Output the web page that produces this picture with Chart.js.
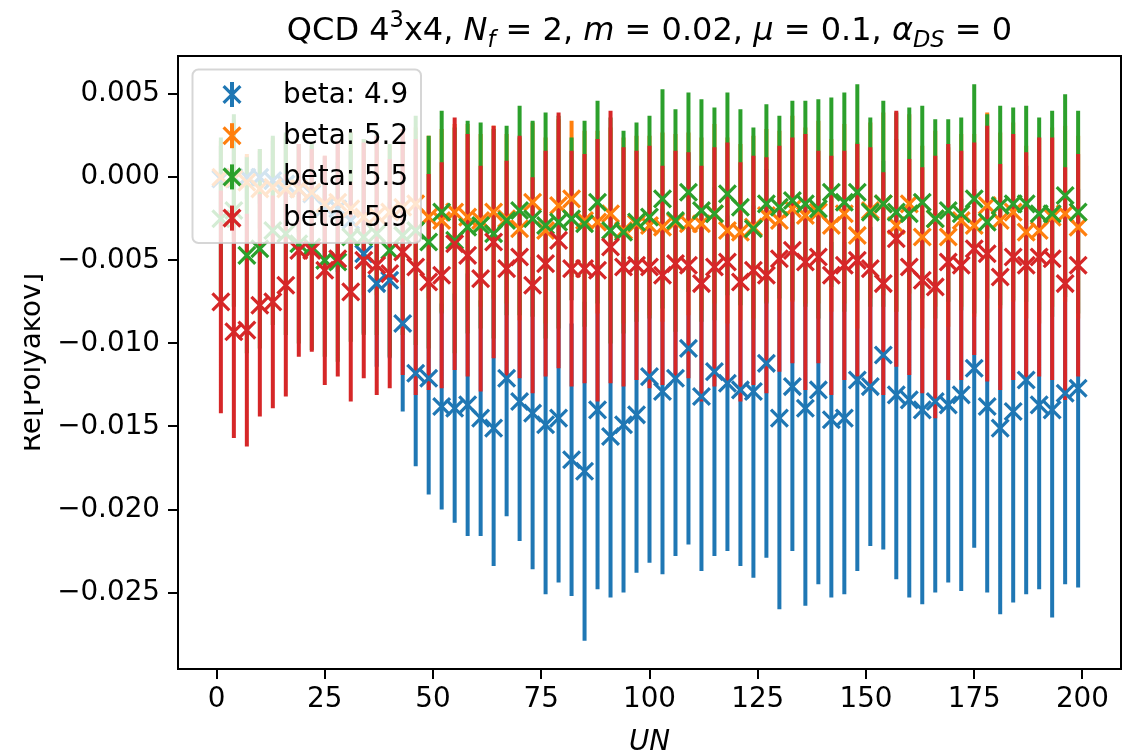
<!DOCTYPE html>
<html>
<head>
<meta charset="utf-8">
<script src="https://cdn.jsdelivr.net/npm/chart.js@4.4.1/dist/chart.umd.min.js"></script>
<style>
    html, body { margin: 0; padding: 0; background: #fff; }
    #wrap { width: 1139px; height: 754px; }
</style>
</head>
<body>
<div id="wrap"><canvas id="grafico" width="1139" height="754"></canvas></div>
<script>
// Polyakov loop vs. configuration number, one series per beta
var xVals = [1, 4, 7, 10, 13, 16, 19, 22, 25, 28, 31, 34, 37, 40, 43, 46, 49, 52, 55, 58,
    61, 64, 67, 70, 73, 76, 79, 82, 85, 88, 91, 94, 97, 100, 103, 106, 109, 112, 115, 118,
    121, 124, 127, 130, 133, 136, 139, 142, 145, 148, 151, 154, 157, 160, 163, 166, 169, 172, 175, 178,
    181, 184, 187, 190, 193, 196, 199];

var betaLabels = ['beta: 4.9', 'beta: 5.2', 'beta: 5.5', 'beta: 5.9'];

var beta49 = [-0.0001, 0.0000, 0.0000, 0.0000, -0.0002, -0.0004, -0.0007, -0.0010, -0.0018, -0.0019,
    -0.0026, -0.0046, -0.0064, -0.0062, -0.0088, -0.0118, -0.0121, -0.0138, -0.0139, -0.0137,
    -0.0145, -0.0151, -0.0121, -0.0135, -0.0142, -0.0149, -0.0145, -0.0170, -0.0177, -0.0140,
    -0.0156, -0.0149, -0.0143, -0.0120, -0.0129, -0.0121, -0.0103, -0.0132, -0.0117, -0.0124,
    -0.0128, -0.0129, -0.0112, -0.0145, -0.0126, -0.0139, -0.0128, -0.0146, -0.0145, -0.0122,
    -0.0126, -0.0107, -0.0131, -0.0134, -0.0140, -0.0135, -0.0137, -0.0131, -0.0115, -0.0138,
    -0.0151, -0.0141, -0.0122, -0.0137, -0.0140, -0.0130, -0.0127];
var beta49Err = [0.0020, 0.0030, 0.0013, 0.0016, 0.0024, 0.0028, 0.0026, 0.0029, 0.0030, 0.0038,
    0.0042, 0.0048, 0.0050, 0.0047, 0.0053, 0.0056, 0.0070, 0.0062, 0.0069, 0.0079,
    0.0071, 0.0083, 0.0083, 0.0084, 0.0094, 0.0102, 0.0099, 0.0082, 0.0102, 0.0108,
    0.0097, 0.0101, 0.0095, 0.0112, 0.0110, 0.0107, 0.0118, 0.0105, 0.0111, 0.0101,
    0.0106, 0.0112, 0.0117, 0.0115, 0.0099, 0.0119, 0.0117, 0.0107, 0.0106, 0.0115,
    0.0096, 0.0117, 0.0111, 0.0119, 0.0117, 0.0115, 0.0107, 0.0118, 0.0108, 0.0112,
    0.0112, 0.0115, 0.0129, 0.0111, 0.0125, 0.0115, 0.0120];

var beta52 = [0.0000, -0.0001, -0.0003, -0.0007, -0.0006, -0.0007, -0.0007, -0.0009, -0.0016, -0.0015,
    -0.0019, -0.0024, -0.0023, -0.0021, -0.0018, -0.0016, -0.0024, -0.0026, -0.0021, -0.0024,
    -0.0026, -0.0021, -0.0025, -0.0031, -0.0015, -0.0032, -0.0017, -0.0013, -0.0026, -0.0027,
    -0.0022, -0.0032, -0.0028, -0.0029, -0.0030, -0.0027, -0.0028, -0.0028, -0.0022, -0.0032,
    -0.0033, -0.0030, -0.0023, -0.0026, -0.0019, -0.0023, -0.0021, -0.0029, -0.0022, -0.0035,
    -0.0020, -0.0016, -0.0029, -0.0016, -0.0036, -0.0025, -0.0036, -0.0026, -0.0029, -0.0017,
    -0.0026, -0.0021, -0.0033, -0.0032, -0.0024, -0.0022, -0.0030];
var beta52Err = [0.0022, 0.0036, 0.0017, 0.0024, 0.0030, 0.0033, 0.0027, 0.0029, 0.0029, 0.0036,
    0.0046, 0.0047, 0.0048, 0.0040, 0.0047, 0.0046, 0.0049, 0.0055, 0.0053, 0.0056,
    0.0052, 0.0052, 0.0051, 0.0055, 0.0048, 0.0056, 0.0052, 0.0047, 0.0054, 0.0055,
    0.0052, 0.0056, 0.0053, 0.0054, 0.0057, 0.0053, 0.0055, 0.0052, 0.0054, 0.0056,
    0.0053, 0.0055, 0.0052, 0.0054, 0.0056, 0.0053, 0.0055, 0.0052, 0.0054, 0.0056,
    0.0053, 0.0055, 0.0052, 0.0054, 0.0055, 0.0053, 0.0054, 0.0052, 0.0055, 0.0056,
    0.0053, 0.0054, 0.0052, 0.0056, 0.0054, 0.0053, 0.0055];

var beta55 = [-0.0025, -0.0020, -0.0047, -0.0043, -0.0032, -0.0034, -0.0040, -0.0042, -0.0050, -0.0051,
    -0.0036, -0.0036, -0.0034, -0.0044, -0.0035, -0.0032, -0.0039, -0.0021, -0.0038, -0.0030,
    -0.0029, -0.0034, -0.0026, -0.0020, -0.0025, -0.0029, -0.0027, -0.0025, -0.0028, -0.0015,
    -0.0032, -0.0033, -0.0027, -0.0024, -0.0013, -0.0026, -0.0009, -0.0020, -0.0022, -0.0010,
    -0.0018, -0.0031, -0.0016, -0.0018, -0.0014, -0.0016, -0.0019, -0.0009, -0.0015, -0.0009,
    -0.0021, -0.0016, -0.0021, -0.0022, -0.0015, -0.0025, -0.0020, -0.0022, -0.0013, -0.0027,
    -0.0017, -0.0016, -0.0016, -0.0022, -0.0022, -0.0011, -0.0021];
var beta55Err = [0.0049, 0.0058, 0.0059, 0.0060, 0.0057, 0.0061, 0.0060, 0.0062, 0.0058, 0.0060,
    0.0063, 0.0059, 0.0061, 0.0064, 0.0060, 0.0069, 0.0064, 0.0061, 0.0068, 0.0064,
    0.0062, 0.0063, 0.0057, 0.0063, 0.0059, 0.0068, 0.0064, 0.0049, 0.0062, 0.0061,
    0.0068, 0.0061, 0.0060, 0.0061, 0.0066, 0.0067, 0.0060, 0.0067, 0.0064, 0.0061,
    0.0059, 0.0061, 0.0060, 0.0055, 0.0060, 0.0062, 0.0066, 0.0057, 0.0066, 0.0065,
    0.0057, 0.0062, 0.0060, 0.0064, 0.0058, 0.0060, 0.0055, 0.0058, 0.0069, 0.0065,
    0.0060, 0.0058, 0.0059, 0.0058, 0.0062, 0.0061, 0.0061];

var beta59 = [-0.0075, -0.0093, -0.0092, -0.0077, -0.0075, -0.0065, -0.0044, -0.0044, -0.0056, -0.0049,
    -0.0069, -0.0050, -0.0053, -0.0058, -0.0045, -0.0054, -0.0063, -0.0059, -0.0040, -0.0047,
    -0.0061, -0.0039, -0.0055, -0.0048, -0.0065, -0.0052, -0.0038, -0.0055, -0.0055, -0.0056,
    -0.0042, -0.0054, -0.0053, -0.0054, -0.0059, -0.0052, -0.0053, -0.0064, -0.0054, -0.0051,
    -0.0063, -0.0056, -0.0059, -0.0049, -0.0044, -0.0051, -0.0048, -0.0059, -0.0053, -0.0050,
    -0.0055, -0.0064, -0.0037, -0.0054, -0.0062, -0.0066, -0.0051, -0.0053, -0.0043, -0.0046,
    -0.0060, -0.0048, -0.0053, -0.0048, -0.0049, -0.0064, -0.0053];
var beta59Err = [0.0067, 0.0064, 0.0070, 0.0067, 0.0064, 0.0067, 0.0064, 0.0061, 0.0069, 0.0071,
    0.0066, 0.0071, 0.0078, 0.0069, 0.0074, 0.0077, 0.0065, 0.0068, 0.0076, 0.0073,
    0.0068, 0.0070, 0.0065, 0.0073, 0.0065, 0.0068, 0.0077, 0.0071, 0.0069, 0.0079,
    0.0082, 0.0072, 0.0069, 0.0073, 0.0066, 0.0068, 0.0068, 0.0071, 0.0072, 0.0072,
    0.0072, 0.0069, 0.0071, 0.0068, 0.0068, 0.0077, 0.0064, 0.0072, 0.0069, 0.0070,
    0.0073, 0.0067, 0.0077, 0.0065, 0.0068, 0.0079, 0.0071, 0.0069, 0.0064, 0.0077,
    0.0068, 0.0074, 0.0068, 0.0072, 0.0073, 0.0070, 0.0067];

var xTicks = [0, 25, 50, 75, 100, 125, 150, 175, 200];
var yTicks = [-0.025, -0.020, -0.015, -0.010, -0.005, 0.000, 0.005];

var cores = ['#1f77b4', '#ff7f0e', '#2ca02c', '#d62728'];

var series = [
    { label: betaLabels[0], vals: beta49, err: beta49Err, cor: cores[0] },
    { label: betaLabels[1], vals: beta52, err: beta52Err, cor: cores[1] },
    { label: betaLabels[2], vals: beta55, err: beta55Err, cor: cores[2] },
    { label: betaLabels[3], vals: beta59, err: beta59Err, cor: cores[3] }
];

var FONTE = '"DejaVu Sans", "Liberation Sans", sans-serif';
var TAM = 27.8;

function montaPontos(vals) {
    return xVals.map(function (x, i) {
        return { x: x, y: vals[i] };
    });
}

function formataY(v) {
    var s = Math.abs(v).toFixed(3);
    return v < -1e-9 ? '\u2212' + s : s;
}

// desenha um "x" do mesmo jeito que os marcadores
function desenhaX(ctx, x, y, meio) {
    ctx.beginPath();
    ctx.moveTo(x - meio, y - meio);
    ctx.lineTo(x + meio, y + meio);
    ctx.moveTo(x - meio, y + meio);
    ctx.lineTo(x + meio, y - meio);
    ctx.stroke();
}

// barras de erro: todas antes dos marcadores
var barrasErro = {
    id: 'barrasErro',
    beforeDatasetsDraw: function (chart) {
        var ctx = chart.ctx, area = chart.chartArea, sx = chart.scales.x, sy = chart.scales.y;
        ctx.save();
        ctx.beginPath();
        ctx.rect(area.left, area.top, area.right - area.left, area.bottom - area.top);
        ctx.clip();
        ctx.lineWidth = 4;
        ctx.lineCap = 'butt';
        series.forEach(function (s) {
            ctx.strokeStyle = s.cor;
            ctx.beginPath();
            xVals.forEach(function (x, i) {
                var px = sx.getPixelForValue(x);
                ctx.moveTo(px, sy.getPixelForValue(s.vals[i] + s.err[i]));
                ctx.lineTo(px, sy.getPixelForValue(s.vals[i] - s.err[i]));
            });
            ctx.stroke();
        });
        ctx.restore();
    }
};

// moldura dos eixos e legenda semitransparente
var molduraLegenda = {
    id: 'molduraLegenda',
    afterDatasetsDraw: function (chart) {
        var ctx = chart.ctx, area = chart.chartArea;
        ctx.save();
        ctx.strokeStyle = '#000';
        ctx.lineWidth = 2;
        ctx.strokeRect(area.left, area.top, area.right - area.left, area.bottom - area.top);

        var bx = 192.5, by = 69.5, bw = 228.5, bh = 173.5, r = 6;
        ctx.beginPath();
        ctx.moveTo(bx + r, by);
        ctx.arcTo(bx + bw, by, bx + bw, by + bh, r);
        ctx.arcTo(bx + bw, by + bh, bx, by + bh, r);
        ctx.arcTo(bx, by + bh, bx, by, r);
        ctx.arcTo(bx, by, bx + bw, by, r);
        ctx.closePath();
        ctx.fillStyle = 'rgba(255,255,255,0.8)';
        ctx.fill();
        ctx.strokeStyle = 'rgba(204,204,204,0.8)';
        ctx.lineWidth = 2;
        ctx.stroke();

        ctx.font = TAM + 'px ' + FONTE;
        ctx.textBaseline = 'middle';
        ctx.textAlign = 'left';
        series.forEach(function (s, i) {
            var cy = 94.5 + i * 41.2;
            ctx.strokeStyle = s.cor;
            ctx.lineWidth = 4;
            ctx.beginPath();
            ctx.moveTo(232, cy - 12.5);
            ctx.lineTo(232, cy + 12.5);
            ctx.stroke();
            ctx.lineWidth = 3.2;
            desenhaX(ctx, 232, cy, 8.4);
            ctx.fillStyle = '#000';
            ctx.fillText(s.label, 283, cy + 1);
        });
        ctx.restore();
    }
};

// titulo com sub/sobrescritos e rotulos dos eixos
var tituloPartes = [
    { t: 'QCD 4', f: 'n' },
    { t: '3', f: 'sup' },
    { t: 'x4, ', f: 'n' },
    { t: 'N', f: 'i' },
    { t: 'f', f: 'isub' },
    { t: ' = 2, ', f: 'n' },
    { t: 'm', f: 'i' },
    { t: ' = 0.02, ', f: 'n' },
    { t: '\u03bc', f: 'i' },
    { t: ' = 0.1, ', f: 'n' },
    { t: '\u03b1', f: 'i' },
    { t: 'DS', f: 'isub' },
    { t: ' = 0', f: 'n' }
];

function fontePara(f) {
    if (f === 'n') return '32px ' + FONTE;
    if (f === 'i') return 'italic 32px ' + FONTE;
    if (f === 'sup') return '22.5px ' + FONTE;
    return 'italic 22.5px ' + FONTE;
}

var textos = {
    id: 'textos',
    afterDraw: function (chart) {
        var ctx = chart.ctx, area = chart.chartArea;
        ctx.save();
        ctx.fillStyle = '#000';
        ctx.textBaseline = 'alphabetic';
        ctx.textAlign = 'left';

        var total = 0;
        tituloPartes.forEach(function (p) {
            ctx.font = fontePara(p.f);
            p.w = ctx.measureText(p.t).width;
            total += p.w;
        });
        var x = (area.left + area.right) / 2 - total / 2, base = 40;
        tituloPartes.forEach(function (p) {
            ctx.font = fontePara(p.f);
            var dy = 0;
            if (p.f === 'sup') dy = -13;
            if (p.f === 'isub') dy = 7;
            ctx.fillText(p.t, x, base + dy);
            x += p.w;
        });

        ctx.font = 'italic ' + TAM + 'px ' + FONTE;
        ctx.textAlign = 'center';
        ctx.fillText('UN', (area.left + area.right) / 2, 750);

        ctx.beginPath();
        ctx.rect(24, 0, 100, 754);
        ctx.clip();
        ctx.translate(40, (area.top + area.bottom) / 2);
        ctx.rotate(-Math.PI / 2);
        ctx.font = TAM + 'px ' + FONTE;
        ctx.fillText('Re[Polyakov]', 0, 0);
        ctx.restore();
    }
};

var ctx = document.getElementById('grafico').getContext('2d');
var grafico = new Chart(ctx, {
    type: 'scatter',
    data: {
        datasets: series.map(function (s, i) {
            return {
                label: s.label,
                data: montaPontos(s.vals),
                showLine: false,
                pointStyle: 'crossRot',
                pointRadius: 11.9,
                pointHoverRadius: 11.9,
                pointBorderWidth: 3.2,
                borderColor: s.cor,
                backgroundColor: s.cor,
                order: series.length - i
            };
        })
    },
    options: {
        responsive: false,
        animation: false,
        devicePixelRatio: 1,
        events: [],
        layout: { padding: { top: 56, right: 18, bottom: 0, left: 0 } },
        plugins: {
            legend: { display: false },
            tooltip: { enabled: false },
            title: { display: false }
        },
        scales: {
            x: {
                type: 'linear',
                min: -8.9,
                max: 208.9,
                afterFit: function (s) { s.height = 85; },
                afterBuildTicks: function (s) {
                    s.ticks = xTicks.map(function (v) { return { value: v }; });
                },
                grid: { drawOnChartArea: false, drawTicks: true, tickLength: 10, lineWidth: 2, color: '#000' },
                border: { display: false },
                ticks: {
                    color: '#000',
                    font: { family: FONTE, size: TAM },
                    padding: 4,
                    maxRotation: 0,
                    autoSkip: false,
                    callback: function (v) { return String(v); }
                }
            },
            y: {
                type: 'linear',
                min: -0.0296,
                max: 0.0073,
                afterFit: function (s) { s.width = 178; },
                afterBuildTicks: function (s) {
                    s.ticks = yTicks.map(function (v) { return { value: v }; });
                },
                grid: { drawOnChartArea: false, drawTicks: true, tickLength: 10, lineWidth: 2, color: '#000' },
                border: { display: false },
                ticks: {
                    color: '#000',
                    font: { family: FONTE, size: TAM },
                    padding: 8,
                    autoSkip: false,
                    callback: function (v) { return formataY(v); }
                }
            }
        }
    },
    plugins: [barrasErro, molduraLegenda, textos]
});
</script>
</body>
</html>
